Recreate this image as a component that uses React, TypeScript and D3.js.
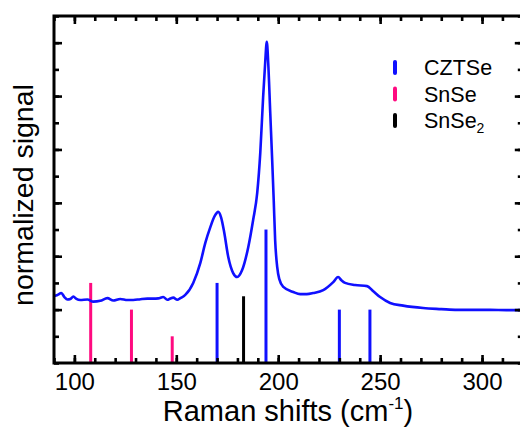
import React, { useRef, useEffect } from "react";
import * as d3 from "d3";

// measured spectrum (Raman shift in cm-1, normalized signal)
const spectrumShift = [
  90, 91.7, 93.6, 95.1, 96.6, 98, 99.5, 101, 102.9, 106.4, 109.3, 112.7, 116.2,
  119.1, 122.5, 126, 128.9, 132.4, 135.8, 138.7, 141.2, 143.6, 145.6, 147.1,
  148.5, 150.5, 152, 154.4, 158.3, 161.8, 164.2, 166.7, 168.8, 170.6, 172,
  173.5, 175.5, 177.9, 179.9, 182.3, 185.3, 187.7, 189.7, 191.2, 192.6, 193.6,
  194.4, 195.1, 196.1, 197.1, 197.8, 198.5, 199.5, 200.5, 202.5, 207.4, 210.8,
  214, 217.2, 222.1, 227, 229.4, 231, 232.8, 237.7, 243.6, 246.5, 250, 254.9,
  261.3, 271.1, 280, 287.8, 296, 304, 312, 320,
];
const spectrumSignal = [
  0.251, 0.255, 0.262, 0.247, 0.238, 0.24, 0.249, 0.24, 0.236, 0.238, 0.23,
  0.233, 0.243, 0.234, 0.24, 0.236, 0.236, 0.239, 0.241, 0.241, 0.242, 0.247,
  0.237, 0.242, 0.245, 0.237, 0.243, 0.255, 0.3, 0.375, 0.449, 0.509, 0.55,
  0.566, 0.545, 0.49, 0.397, 0.337, 0.322, 0.348, 0.434, 0.536, 0.637, 0.787,
  0.996, 1.124, 1.203, 1.124, 0.936, 0.749, 0.61, 0.46, 0.36, 0.315, 0.285,
  0.266, 0.258, 0.258, 0.262, 0.273, 0.303, 0.322, 0.31, 0.3, 0.292, 0.288,
  0.27, 0.247, 0.225, 0.215, 0.206, 0.202, 0.199, 0.199, 0.199, 0.198, 0.198,
];

// reference phase lines
const cztsePos = [170, 194, 230, 245];
const cztseHeight = [0.3, 0.5, 0.2, 0.2];
const snsePos = [108, 128, 148];
const snseHeight = [0.3, 0.2, 0.1];
const snse2Pos = [183];
const snse2Height = [0.25];

const legendNames = ["CZTSe", "SnSe", "SnSe"];
const legendSubs = ["", "", "2"];
const legendColors = ["#1010ff", "#ff0a80", "#000000"];

const xMajorTicks = [100, 150, 200, 250, 300];

const W = 520;
const H = 427;
const left = 54;
const right = 522.8;
const top = 16;
const bottom = 363;
const font = "'Liberation Sans', Arial, sans-serif";

const App = () => {
  const svgRef = useRef<SVGSVGElement>(null);

  const x = d3.scaleLinear().domain([90, 320]).range([left, right]);
  const y = d3.scaleLinear().domain([0, 1.3]).range([bottom, top]);

  const sticks = [
    ...cztsePos.map((p, i) => ({ p, h: cztseHeight[i], c: legendColors[0] })),
    ...snsePos.map((p, i) => ({ p, h: snseHeight[i], c: legendColors[1] })),
    ...snse2Pos.map((p, i) => ({ p, h: snse2Height[i], c: legendColors[2] })),
  ];

  const spectrum = d3
    .line<number>()
    .x((d) => x(d))
    .y((d, i) => y(spectrumSignal[i]))
    .curve(d3.curveMonotoneX)(spectrumShift);

  useEffect(() => {
    const svg = d3.select(svgRef.current);
    const minorX = d3.range(90, 321, 10);
    const minorY = d3.range(0, 1.31, 0.1);
    const majorY = d3.range(0.2, 1.3, 0.2);

    const style = (g: any) => {
      g.select(".domain").remove();
      g.selectAll("line").attr("stroke", "#000").attr("stroke-width", 2.6);
      g.selectAll("text")
        .attr("font-family", font)
        .attr("font-size", 24)
        .attr("fill", "#000");
    };

    svg.select(".xb-minor").attr("transform", `translate(0,${bottom})`)
      .call(d3.axisBottom(x).tickValues(minorX).tickSizeInner(-5).tickSizeOuter(0).tickFormat(() => ""))
      .call(style);
    svg.select(".xb-major").attr("transform", `translate(0,${bottom})`)
      .call(d3.axisBottom(x).tickValues(xMajorTicks).tickSizeInner(-8).tickSizeOuter(0).tickPadding(10).tickFormat(d3.format("d")))
      .call(style);
    svg.select(".xt-minor").attr("transform", `translate(0,${top})`)
      .call(d3.axisTop(x).tickValues(minorX).tickSizeInner(-5).tickSizeOuter(0).tickFormat(() => ""))
      .call(style);
    svg.select(".xt-major").attr("transform", `translate(0,${top})`)
      .call(d3.axisTop(x).tickValues(xMajorTicks).tickSizeInner(-8).tickSizeOuter(0).tickFormat(() => ""))
      .call(style);
    svg.select(".yl-minor").attr("transform", `translate(${left},0)`)
      .call(d3.axisLeft(y).tickValues(minorY).tickSizeInner(-5).tickSizeOuter(0).tickFormat(() => ""))
      .call(style);
    svg.select(".yl-major").attr("transform", `translate(${left},0)`)
      .call(d3.axisLeft(y).tickValues(majorY).tickSizeInner(-8).tickSizeOuter(0).tickFormat(() => ""))
      .call(style);
    svg.select(".yr-minor").attr("transform", `translate(${right},0)`)
      .call(d3.axisRight(y).tickValues(minorY).tickSizeInner(-5).tickSizeOuter(0).tickFormat(() => ""))
      .call(style);
    svg.select(".yr-major").attr("transform", `translate(${right},0)`)
      .call(d3.axisRight(y).tickValues(majorY).tickSizeInner(-8).tickSizeOuter(0).tickFormat(() => ""))
      .call(style);
  }, []);

  return (
    <svg
      ref={svgRef}
      width={W}
      height={H}
      style={{ position: "absolute", left: 0, top: 0, background: "#fff" }}
    >
      {sticks.map((s, i) => (
        <line
          key={i}
          x1={x(s.p)}
          x2={x(s.p)}
          y1={y(0)}
          y2={y(s.h)}
          stroke={s.c}
          strokeWidth={3}
        />
      ))}
      <path d={spectrum ?? ""} fill="none" stroke="#1010ff" strokeWidth={2.6} strokeLinejoin="round" />

      <g className="xb-minor" />
      <g className="xb-major" />
      <g className="xt-minor" />
      <g className="xt-major" />
      <g className="yl-minor" />
      <g className="yl-major" />
      <g className="yr-minor" />
      <g className="yr-major" />
      <rect
        x={left}
        y={top}
        width={right - left}
        height={bottom - top}
        fill="none"
        stroke="#000"
        strokeWidth={3}
      />

      {legendNames.map((n, i) => (
        <g key={i} transform={`translate(0,${67.5 + i * 26.5})`}>
          <rect x={393} y={-7.5} width={4} height={15} rx={2} fill={legendColors[i]} />
          <text x={424} y={7.5} fontFamily={font} fontSize={21.5} fill="#000">
            {n}
            {legendSubs[i] && (
              <tspan fontSize={14} dy={5}>
                {legendSubs[i]}
              </tspan>
            )}
          </text>
        </g>
      ))}

      <text
        x={288}
        y={421}
        textAnchor="middle"
        fontFamily={font}
        fontSize={29}
        fill="#000"
      >
        Raman shifts (cm
        <tspan fontSize={17} dy={-12}>-1</tspan>
        <tspan dy={12}>)</tspan>
      </text>
      <text
        transform={`translate(33,195) rotate(-90)`}
        textAnchor="middle"
        fontFamily={font}
        fontSize={28.5}
        fill="#000"
      >
        normalized signal
      </text>
    </svg>
  );
};

export default App;
